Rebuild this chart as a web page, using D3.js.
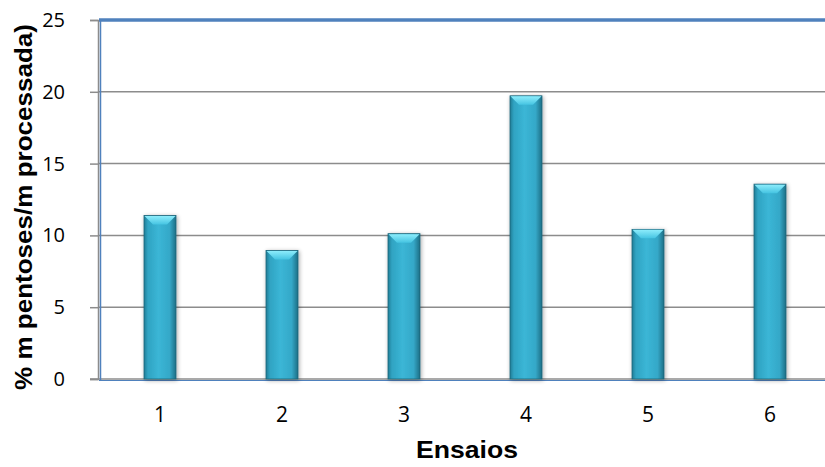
<!DOCTYPE html>
<html><head><meta charset="utf-8">
<script src="https://cdn.jsdelivr.net/npm/d3@7"></script>
<style>body{margin:0;background:#fff;} svg{display:block;}</style>
</head><body>
<svg id="c" width="825" height="467"></svg>
<script>
const categories = ["1","2","3","4","5","6"];
const values = [11.38, 8.95, 10.12, 19.72, 10.42, 13.57];
const yTicks = [0,5,10,15,20,25];
const yLabel = "% m pentoses/m processada)";
const xLabel = "Ensaios";

const svg = d3.select("#c");
const L = 99, R = 831, T = 20, B = 379;
const x = d3.scaleBand().domain(categories).range([L, R]).padding(0);
const y = d3.scaleLinear().domain([0,25]).range([B, T]);

const defs = svg.append("defs");
const g1 = defs.append("linearGradient").attr("id","bar").attr("x1","0").attr("x2","1").attr("y1","0").attr("y2","0");
[[0,"#1f7d96"],[0.12,"#2fa3c2"],[0.45,"#3bb6d6"],[0.8,"#34a8c8"],[1,"#1d6f86"]].forEach(s=>g1.append("stop").attr("offset",s[0]).attr("stop-color",s[1]));
const g2 = defs.append("linearGradient").attr("id","bev").attr("x1","0").attr("x2","0").attr("y1","0").attr("y2","1");
[[0,"#8cecfb"],[1,"#45c4e2"]].forEach(s=>g2.append("stop").attr("offset",s[0]).attr("stop-color",s[1]));
const flt = defs.append("filter").attr("id","sh").attr("x","-30%").attr("y","-10%").attr("width","160%").attr("height","120%");
flt.append("feGaussianBlur").attr("in","SourceAlpha").attr("stdDeviation",2);
flt.append("feOffset").attr("dx",1).attr("dy",1).attr("result","b");
flt.append("feComponentTransfer").append("feFuncA").attr("type","linear").attr("slope",0.35);
const fm = flt.append("feMerge"); fm.append("feMergeNode"); fm.append("feMergeNode").attr("in","SourceGraphic");

// gridlines
svg.append("g").selectAll("line").data(yTicks.filter(d=>d>0&&d<25)).join("line")
  .attr("x1",L).attr("x2",825).attr("y1",d=>y(d)).attr("y2",d=>y(d))
  .attr("stroke","#8c8c8c").attr("stroke-width",1.5);

// y axis
const yAxis = d3.axisLeft(y).tickValues(yTicks).tickSize(8).tickPadding(25);
const ya = svg.append("g").attr("transform",`translate(${L-1},0)`).call(yAxis);
ya.attr("font-size",null).attr("font-family",null);
ya.select(".domain").attr("stroke","#8c8c8c").attr("stroke-width",1.5);
ya.selectAll(".tick line").attr("stroke","#8c8c8c").attr("stroke-width",1.5);
ya.selectAll("text").style("font-family","'Open Sans', sans-serif").style("font-size","20px").attr("fill","#000");

// x axis
const xAxis = d3.axisBottom(x).tickSize(0).tickPadding(28);
const xa = svg.append("g").attr("transform",`translate(0,${B})`).call(xAxis);
xa.attr("font-size",null).attr("font-family",null);
xa.select(".domain").remove();
xa.selectAll("text").style("font-family","'Open Sans', sans-serif").style("font-size","21px").attr("fill","#000");
svg.append("line").attr("x1",L-9).attr("x2",825).attr("y1",B).attr("y2",B).attr("stroke","#8c8c8c").attr("stroke-width",1.5);

// plot area border
svg.append("line").attr("x1",L).attr("x2",825).attr("y1",T).attr("y2",T).attr("stroke","#4f81bd").attr("stroke-width",3.5);
svg.append("line").attr("x1",L+1.5).attr("x2",L+1.5).attr("y1",T).attr("y2",B+1).attr("stroke","#4f81bd").attr("stroke-width",1.5);
svg.append("line").attr("x1",L).attr("x2",825).attr("y1",B+1.5).attr("y2",B+1.5).attr("stroke","#4f81bd").attr("stroke-width",1.2);

// bars
const bw = x.bandwidth()*0.262;
const bars = svg.append("g").selectAll("g").data(values).join("g");
bars.append("rect")
  .attr("x",(d,i)=>x(categories[i])+x.bandwidth()/2-bw/2)
  .attr("y",d=>y(d)).attr("width",bw).attr("height",d=>B-y(d))
  .attr("fill","url(#bar)").attr("stroke","#1b6479").attr("stroke-width",0.8).attr("filter","url(#sh)");
bars.append("path")
  .attr("d",(d,i)=>{const x0=x(categories[i])+x.bandwidth()/2-bw/2, y0=y(d);
    return `M${x0+0.5},${y0+0.5}L${x0+bw-0.5},${y0+0.5}L${x0+bw-9},${y0+9}L${x0+9},${y0+9}Z`;})
  .attr("fill","url(#bev)");

// labels
svg.append("text").attr("transform","translate(32,207) rotate(-90)").attr("text-anchor","middle")
  .attr("font-family","'Liberation Sans', Arial, sans-serif").attr("font-weight","bold").attr("font-size",24)
  .attr("textLength",366).attr("lengthAdjust","spacingAndGlyphs").text(yLabel);
svg.append("text").attr("x",467).attr("y",458).attr("text-anchor","middle")
  .attr("font-family","'Liberation Sans', Arial, sans-serif").attr("font-weight","bold").attr("font-size",24)
  .attr("textLength",102).attr("lengthAdjust","spacingAndGlyphs").text(xLabel);
</script>
</body></html>
